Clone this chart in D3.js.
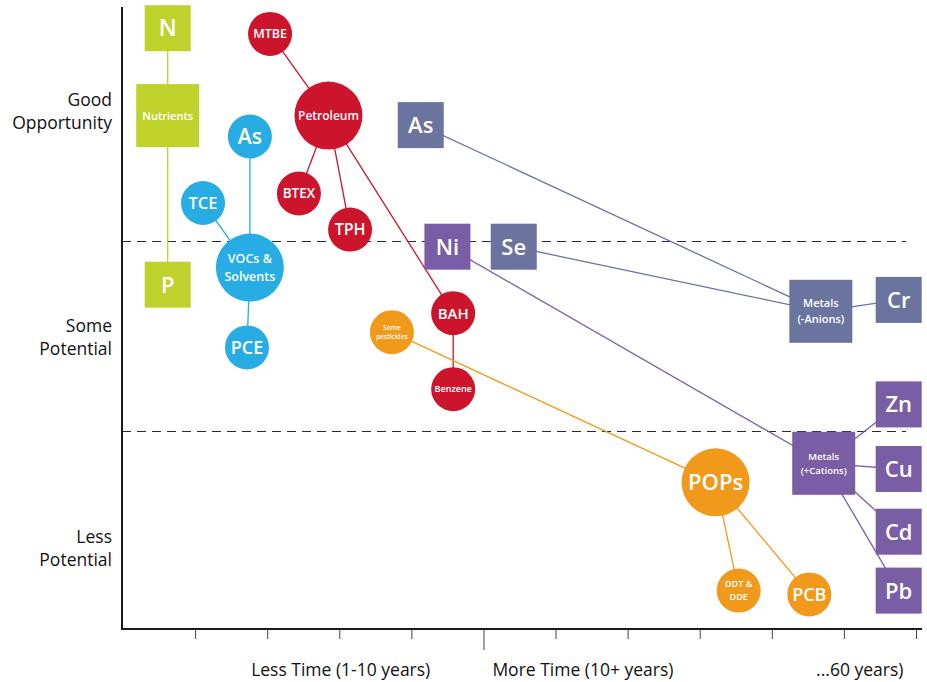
<html>
  <head>
    <meta charset="utf-8" />
    <script src="https://d3js.org/d3.v7.min.js"></script>
    <style>
      body { margin: 0; background: #fff; }
      text { font-family: "Open Sans", "Noto Sans", sans-serif; }
    </style>
  </head>
  <body>
    <svg id="chart" width="927" height="682"></svg>
    <script>
      // nodes: id, label, group, level (1 = group node, 0 = member), time, potential
      var nodeIds = ["N", "Nutrients", "P",
        "AsV", "TCE", "VOCs", "PCE",
        "MTBE", "Petroleum", "BTEX", "TPH", "BAH", "Benzene",
        "Pest", "POPs", "DDT", "PCB",
        "AsM", "Ni", "Se", "MetA", "Cr", "MetC", "Zn", "Cu", "Cd", "Pb"];
      var nodeLabels = ["N", "Nutrients", "P",
        "As", "TCE", "VOCs &\nSolvents", "PCE",
        "MTBE", "Petroleum", "BTEX", "TPH", "BAH", "Benzene",
        "Some\npesticides", "POPs", "DDT &\nDDE", "PCB",
        "As", "Ni", "Se", "Metals\n(-Anions)", "Cr", "Metals\n(+Cations)", "Zn", "Cu", "Cd", "Pb"];
      var nodeGroups = ["nutrients", "nutrients", "nutrients",
        "vocs", "vocs", "vocs", "vocs",
        "petroleum", "petroleum", "petroleum", "petroleum", "petroleum", "petroleum",
        "pops", "pops", "pops", "pops",
        "anions", "cations", "anions", "anions", "anions", "cations", "cations", "cations", "cations", "cations"];
      var nodeLevel = [0, 1, 0,
        0, 0, 1, 0,
        0, 1, 0, 0, 0, 0,
        0, 1, 0, 0,
        0, 0, 0, 1, 0, 1, 0, 0, 0, 0];
      var nodeTime = [0.62, 0.62, 0.62,
        1.76, 1.11, 1.76, 1.72,
        2.04, 2.85, 2.44, 3.15, 4.58, 4.58,
        3.73, 8.22, 8.54, 9.52,
        4.13, 4.5, 5.42, 9.68, 10.76, 9.72, 10.76, 10.76, 10.76, 10.76];
      var nodePotential = [3.12, 2.66, 1.77,
        2.55, 2.2, 1.86, 1.44,
        3.09, 2.66, 2.25, 2.06, 1.62, 1.22,
        1.52, 0.73, 0.16, 0.14,
        2.61, 1.97, 1.97, 1.63, 1.69, 0.83, 1.14, 0.8, 0.47, 0.16];

      var links = [["N", "Nutrients"], ["Nutrients", "P"],
        ["AsV", "VOCs"], ["TCE", "VOCs"], ["VOCs", "PCE"],
        ["MTBE", "Petroleum"], ["Petroleum", "BTEX"], ["Petroleum", "TPH"],
        ["Petroleum", "BAH"], ["BAH", "Benzene"],
        ["Pest", "POPs"], ["POPs", "DDT"], ["POPs", "PCB"],
        ["AsM", "MetA"], ["Se", "MetA"], ["MetA", "Cr"],
        ["Ni", "MetC"], ["MetC", "Zn"], ["MetC", "Cu"], ["MetC", "Cd"], ["MetC", "Pb"]];

      var yCategories = ["Good\nOpportunity", "Some\nPotential", "Less\nPotential"];
      var yCategoryAt = [2.68, 1.49, 0.38];
      var zoneBreaks = [1, 2];
      var xCategories = ["Less Time (1-10 years)", "More Time (10+ years)", "...60 years)"];
      var xCategoryAt = [3.02, 6.38, 10.22];
      var xTicks = [1, 2, 3, 4, 5, 6, 7, 8, 9, 10, 11];
      var majorTick = 5;

      // styles
      var colors = {
        nutrients: "#bfd22b", vocs: "#27ade3", petroleum: "#cd142d",
        pops: "#f0991b", anions: "#6b739f", cations: "#7a5ea5"
      };
      var squareGroups = ["nutrients", "anions", "cations"];
      var labelSize = {
        N: 23, Nutrients: 11, P: 22, AsV: 21, TCE: 16.5, VOCs: 12.5, PCE: 18,
        MTBE: 12.5, Petroleum: 12, BTEX: 13.5, TPH: 16, BAH: 15, Benzene: 9,
        Pest: 6.5, POPs: 22, DDT: 9, PCB: 18,
        AsM: 22, Ni: 22, Se: 22, MetA: 11, Cr: 22, MetC: 9.5, Zn: 22, Cu: 22, Cd: 22, Pb: 22
      };

      var nodes = nodeIds.map(function (id, i) {
        return {
          id: id, label: nodeLabels[i], group: nodeGroups[i], level: nodeLevel[i],
          t: nodeTime[i], p: nodePotential[i]
        };
      });
      var byId = {};
      nodes.forEach(function (d) { byId[d.id] = d; });

      var svg = d3.select("#chart");
      var x = d3.scaleLinear().domain([0, 11]).range([123, 916]);
      var y = d3.scaleLinear().domain([0, 3]).range([621, 51]);
      var axisX0 = 122, axisY0 = 629, axisTop = 7, axisRight = 922;

      // zone dividers
      svg.selectAll(".zone")
        .data(zoneBreaks)
        .enter()
        .append("line")
        .attr("class", "zone")
        .attr("x1", axisX0)
        .attr("x2", 906)
        .attr("y1", function (d) { return y(d) + 0.5; })
        .attr("y2", function (d) { return y(d) + 0.5; })
        .attr("stroke", "#2a2a2a")
        .attr("stroke-width", 1.2)
        .attr("stroke-dasharray", "9,6");

      // axes
      var gx = svg.append("g")
        .attr("transform", "translate(0," + axisY0 + ")")
        .call(d3.axisBottom(x).tickValues(xTicks).tickSize(10).tickSizeOuter(0).tickFormat(""));
      gx.select(".domain").remove();
      gx.selectAll(".tick line")
        .attr("stroke", "#444")
        .attr("stroke-width", 1)
        .attr("y2", function (d) { return d === majorTick ? 21 : 10; });

      svg.append("line")
        .attr("x1", axisX0).attr("x2", axisRight)
        .attr("y1", axisY0).attr("y2", axisY0)
        .attr("stroke", "#1a1a1a").attr("stroke-width", 2);
      svg.append("line")
        .attr("x1", axisX0).attr("x2", axisX0)
        .attr("y1", axisTop).attr("y2", axisY0 + 1)
        .attr("stroke", "#1a1a1a").attr("stroke-width", 2);

      svg.selectAll(".xcat")
        .data(xCategories)
        .enter()
        .append("text")
        .attr("class", "xcat")
        .attr("x", function (d, i) { return x(xCategoryAt[i]); })
        .attr("y", 676)
        .attr("text-anchor", "middle")
        .attr("font-size", 17.5)
        .attr("font-weight", 500)
        .attr("fill", "#111")
        .text(function (d) { return d; });

      var ycat = svg.selectAll(".ycat")
        .data(yCategories)
        .enter()
        .append("text")
        .attr("class", "ycat")
        .attr("text-anchor", "end")
        .attr("font-size", 17.5)
        .attr("font-weight", 500)
        .attr("fill", "#111");
      ycat.each(function (d, i) {
        var lines = d.split("\n");
        var el = d3.select(this);
        lines.forEach(function (s, j) {
          el.append("tspan")
            .attr("x", 112)
            .attr("y", y(yCategoryAt[i]) + (j - (lines.length - 1) / 2) * 23 + 6)
            .text(s);
        });
      });

      // links
      svg.selectAll(".link")
        .data(links)
        .enter()
        .append("line")
        .attr("class", "link")
        .attr("x1", function (d) { return x(byId[d[0]].t); })
        .attr("y1", function (d) { return y(byId[d[0]].p); })
        .attr("x2", function (d) { return x(byId[d[1]].t); })
        .attr("y2", function (d) { return y(byId[d[1]].p); })
        .attr("stroke", function (d) { return colors[byId[d[1]].group]; })
        .attr("stroke-width", 1.3);

      // nodes
      function half(d) {
        if (squareGroups.indexOf(d.group) >= 0) return d.level ? 31.5 : 23;
        return d.level ? 34 : 22;
      }
      var node = svg.selectAll(".node")
        .data(nodes)
        .enter()
        .append("g")
        .attr("class", "node")
        .attr("transform", function (d) { return "translate(" + x(d.t) + "," + y(d.p) + ")"; });

      node.each(function (d) {
        var g = d3.select(this);
        var h = half(d);
        if (squareGroups.indexOf(d.group) >= 0) {
          g.append("rect")
            .attr("x", -h).attr("y", -h)
            .attr("width", 2 * h).attr("height", 2 * h)
            .attr("fill", colors[d.group]);
        } else {
          g.append("circle").attr("r", h).attr("fill", colors[d.group]);
        }
        var lines = d.label.split("\n");
        var fs = labelSize[d.id];
        var lh = fs * 1.45;
        var t = g.append("text")
          .attr("text-anchor", "middle")
          .attr("font-size", fs)
          .attr("font-weight", 600)
          .attr("fill", "#fff");
        lines.forEach(function (s, j) {
          t.append("tspan")
            .attr("x", 0)
            .attr("y", (j - (lines.length - 1) / 2) * lh)
            .attr("dy", "0.36em")
            .text(s);
        });
      });
    </script>
  </body>
</html>
